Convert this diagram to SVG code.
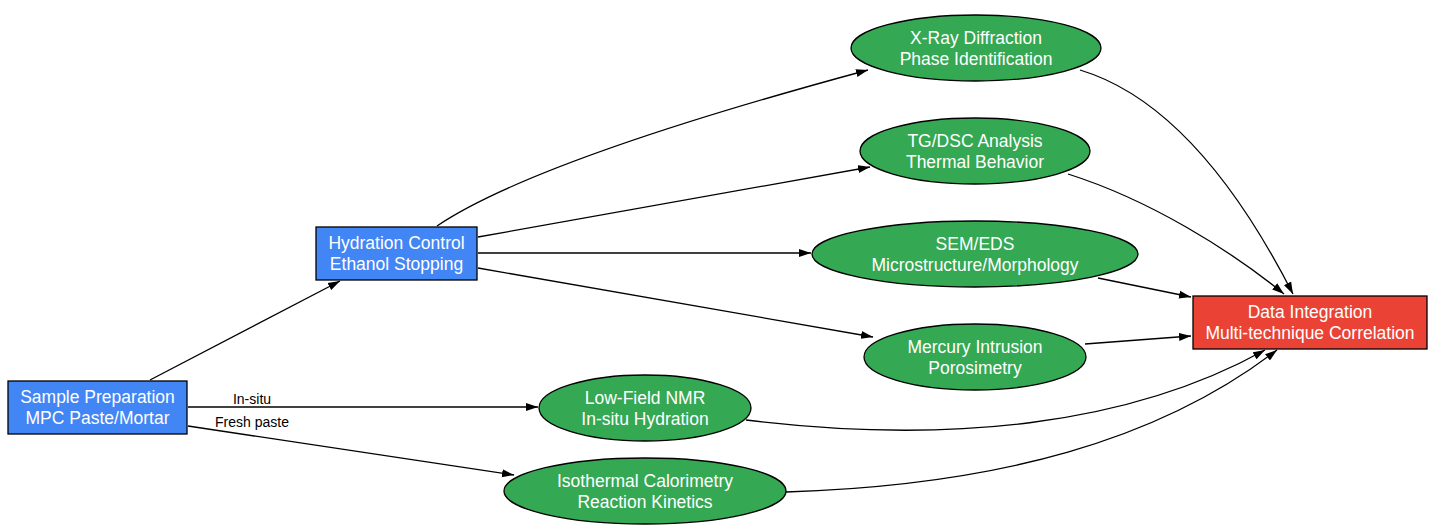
<svg xmlns="http://www.w3.org/2000/svg" width="1436" height="528" viewBox="0 0 1436 528">
<defs>
<style>
.n text{font-family:"Liberation Sans",Arial,sans-serif;font-size:17.5px;fill:#fff;text-anchor:middle}
.box{fill:#4285F4;stroke:#000;stroke-width:1.3}
.ell{fill:#34A853;stroke:#000;stroke-width:1.3}
.red{fill:#EA4335;stroke:#000;stroke-width:1.3}
.e path{fill:none;stroke:#000;stroke-width:1.3;marker-end:url(#ah)}
.lbl{font-family:"Liberation Sans",Arial,sans-serif;font-size:14px;fill:#000;text-anchor:middle}
</style>
<marker id="ah" markerUnits="userSpaceOnUse" markerWidth="12" markerHeight="9" refX="12" refY="4.5" orient="auto"><path d="M0,0.5 L12,4.5 L0,8.5 z" fill="#000"/></marker>
</defs>
<g id="edges" class="e">
<path d="M150,380 L340,281"/>
<path d="M437,226 C520,170 720,110 868,70"/>
<path d="M478,237 L870,167"/>
<path d="M478,253 L811,253"/>
<path d="M478,268 L873,337"/>
<path d="M188,407 L538,407"/>
<path d="M188,426 L514,475"/>
<path d="M1080,70 C1180,100 1250,210 1293,294"/>
<path d="M1068,174 C1150,200 1230,250 1284,294"/>
<path d="M1098,278 L1191,297"/>
<path d="M1085,344 L1191,336"/>
<path d="M746,420 C950,445 1130,425 1265,350"/>
<path d="M786,492 C1000,485 1160,440 1277,350"/>
<text class="lbl" x="252" y="404">In-situ</text>
<text class="lbl" x="252" y="427">Fresh paste</text>
</g>
<g id="sample" class="n"><rect class="box" x="8" y="381" width="179" height="53"/><text x="97.5" y="403">Sample Preparation</text><text x="97.5" y="424">MPC Paste/Mortar</text></g>
<g id="hydration" class="n"><rect class="box" x="316" y="227" width="161" height="53"/><text x="396.5" y="249">Hydration Control</text><text x="396.5" y="270">Ethanol Stopping</text></g>
<g id="xrd" class="n"><ellipse class="ell" cx="976" cy="48" rx="125" ry="33"/><text x="976" y="44">X-Ray Diffraction</text><text x="976" y="65">Phase Identification</text></g>
<g id="tgdsc" class="n"><ellipse class="ell" cx="975" cy="151" rx="115" ry="33"/><text x="975" y="147">TG/DSC Analysis</text><text x="975" y="168">Thermal Behavior</text></g>
<g id="sem" class="n"><ellipse class="ell" cx="975" cy="254" rx="163" ry="33"/><text x="975" y="250">SEM/EDS</text><text x="975" y="271">Microstructure/Morphology</text></g>
<g id="mercury" class="n"><ellipse class="ell" cx="975" cy="357" rx="111" ry="33"/><text x="975" y="353">Mercury Intrusion</text><text x="975" y="374">Porosimetry</text></g>
<g id="nmr" class="n"><ellipse class="ell" cx="645" cy="408" rx="106" ry="33"/><text x="645" y="404">Low-Field NMR</text><text x="645" y="425">In-situ Hydration</text></g>
<g id="calorimetry" class="n"><ellipse class="ell" cx="645" cy="491" rx="141" ry="33"/><text x="645" y="487">Isothermal Calorimetry</text><text x="645" y="508">Reaction Kinetics</text></g>
<g id="data" class="n"><rect class="red" x="1193" y="296" width="234" height="53"/><text x="1310" y="318">Data Integration</text><text x="1310" y="339">Multi-technique Correlation</text></g>
</svg>
